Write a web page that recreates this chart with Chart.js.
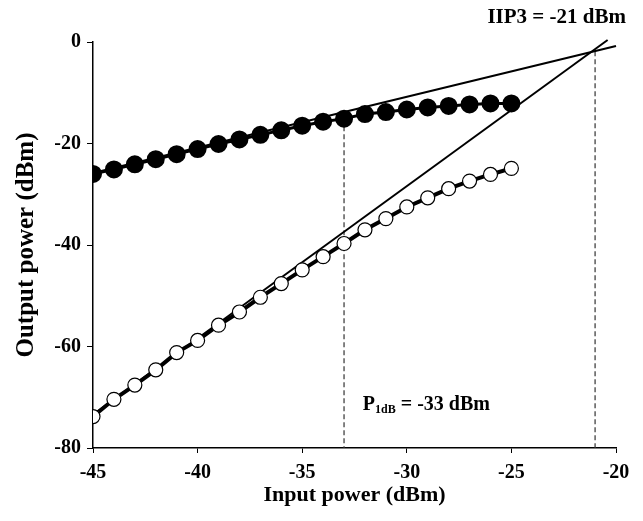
<!DOCTYPE html>
<html>
<head>
<meta charset="utf-8">
<script src="https://cdn.jsdelivr.net/npm/chart.js@4/dist/chart.umd.min.js"></script>
<style>
  html, body { margin: 0; padding: 0; background: #fff; }
  #wrap { width: 643px; height: 521px; }
</style>
</head>
<body>
<div id="wrap"><canvas id="chart-ip3"></canvas></div>
<script>
// input power (dBm)
const inputPower = [-45, -44, -43, -42, -41, -40, -39, -38, -37, -36, -35,
  -34, -33, -32, -31, -30, -29, -28, -27, -26, -25];
// fundamental output (filled dots)
const fundamental = [-26, -25.1, -24.1, -23.1, -22.1, -21.1, -20.1, -19.2, -18.3, -17.4, -16.5,
  -15.7, -15.1, -14.2, -13.8, -13.3, -12.9, -12.6, -12.3, -12.1, -12.1];
// third-order intermod output (open circles)
const im3 = [-73.8, -70.4, -67.6, -64.6, -61.2, -58.8, -55.8, -53.2, -50.3, -47.6, -44.9,
  -42.3, -39.7, -37.0, -34.8, -32.5, -30.7, -28.9, -27.4, -26.1, -24.9];
// extrapolated lines
const fundFitX = [-45, -20];
const fundFitY = [-25.8, -0.8];
const im3FitX = [-45, -20.4];
const im3FitY = [-73.4, 0.4];
// markers
const p1dbX = -33, p1dbTop = -15;
const iip3X = -21, iip3Top = -1.8;
const xTicks = [-45, -40, -35, -30, -25, -20];
const yTicks = [0, -20, -40, -60, -80];

const pts = (xs, ys) => xs.map((x, i) => ({ x: x, y: ys[i] }));

const serif = '"Liberation Serif", "Times New Roman", serif';

const labelsPlugin = {
  id: 'labels',
  afterDraw(chart) {
    const ctx = chart.ctx;
    const xs = chart.scales.x, ys = chart.scales.y;
    ctx.save();
    ctx.fillStyle = '#000';
    ctx.textBaseline = 'alphabetic';
    ctx.font = 'bold 21px ' + serif;
    ctx.textAlign = 'right';
    ctx.fillText('IIP3 = -21 dBm', 626, 23);

    // P1dB label with subscript
    let x = xs.getPixelForValue(-32.1);
    const y = ys.getPixelForValue(-72.6);
    ctx.textAlign = 'left';
    ctx.font = 'bold 20px ' + serif;
    ctx.fillText('P', x, y);
    x += ctx.measureText('P').width;
    ctx.font = 'bold 12px ' + serif;
    ctx.fillText('1dB', x, y + 3);
    x += ctx.measureText('1dB').width;
    ctx.font = 'bold 20px ' + serif;
    ctx.fillText(' = -33 dBm', x, y);
    ctx.restore();
  }
};

new Chart(document.getElementById('chart-ip3'), {
  type: 'scatter',
  data: {
    datasets: [
      {
        label: 'Fundamental',
        data: pts(inputPower, fundamental),
        showLine: true,
        borderColor: '#000',
        borderWidth: 3,
        backgroundColor: '#000',
        pointBackgroundColor: '#000',
        pointBorderColor: '#000',
        pointRadius: 7.5,
        order: 1
      },
      {
        label: 'IM3',
        data: pts(inputPower, im3),
        showLine: true,
        borderColor: '#000',
        borderWidth: 4,
        pointBackgroundColor: '#fff',
        pointBorderColor: '#000',
        pointBorderWidth: 1.2,
        pointRadius: 7,
        order: 2
      },
      {
        label: 'Fundamental fit',
        data: pts(fundFitX, fundFitY),
        showLine: true,
        borderColor: '#000',
        borderWidth: 2,
        pointRadius: 0,
        clip: false,
        order: 3
      },
      {
        label: 'IM3 fit',
        data: pts(im3FitX, im3FitY),
        showLine: true,
        borderColor: '#000',
        borderWidth: 2,
        pointRadius: 0,
        clip: false,
        order: 4
      },
      {
        label: 'P1dB',
        data: pts([p1dbX, p1dbX], [p1dbTop, -80]),
        showLine: true,
        borderColor: '#333',
        borderWidth: 1.2,
        borderDash: [5, 3],
        pointRadius: 0,
        order: 5
      },
      {
        label: 'IIP3',
        data: pts([iip3X, iip3X], [iip3Top, -80]),
        showLine: true,
        borderColor: '#333',
        borderWidth: 1.2,
        borderDash: [5, 3],
        pointRadius: 0,
        order: 6
      }
    ]
  },
  options: {
    responsive: true,
    maintainAspectRatio: false,
    animation: false,
    layout: { padding: { top: 42, right: 27, left: 0, bottom: 0 } },
    plugins: {
      legend: { display: false },
      tooltip: { enabled: false },
      title: { display: false }
    },
    scales: {
      x: {
        type: 'linear',
        min: -45,
        max: -20,
        afterBuildTicks: (s) => { s.ticks = xTicks.map(v => ({ value: v })); },
        afterFit: (s) => { s.height = 73; },
        grid: { drawOnChartArea: false, drawTicks: true, tickLength: 5, color: '#000' },
        border: { display: true, color: '#000', width: 1.5 },
        ticks: { color: '#000', padding: 8, font: { family: serif, size: 20, weight: 'bold' } },
        title: {
          display: true,
          text: 'Input power (dBm)',
          color: '#000',
          padding: { top: 0, bottom: 12 },
          font: { family: serif, size: 22, weight: 'bold' }
        }
      },
      y: {
        type: 'linear',
        min: -80,
        max: 0,
        afterBuildTicks: (s) => { s.ticks = yTicks.map(v => ({ value: v })); },
        afterFit: (s) => { s.width = 93; },
        grid: { drawOnChartArea: false, drawTicks: true, tickLength: 6, color: '#000' },
        border: { display: true, color: '#000', width: 1.5 },
        ticks: { color: '#000', padding: 6, font: { family: serif, size: 20, weight: 'bold' } },
        title: {
          display: true,
          text: 'Output power (dBm)',
          color: '#000',
          padding: { top: 12, bottom: 0 },
          font: { family: serif, size: 25, weight: 'bold' }
        }
      }
    }
  },
  plugins: [labelsPlugin]
});
</script>
</body>
</html>
